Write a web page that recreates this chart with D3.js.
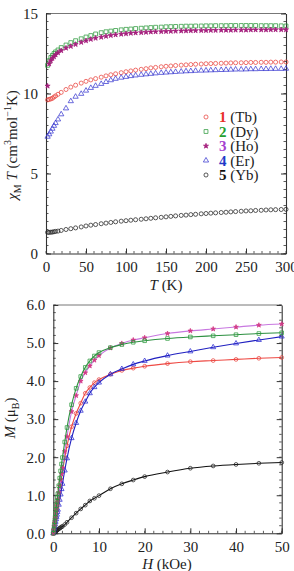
<!DOCTYPE html>
<html><head><meta charset="utf-8">
<script src="https://cdn.jsdelivr.net/npm/d3@7"></script>
<style>
html,body{margin:0;padding:0;background:#fff;overflow:hidden}
text{font-family:"Liberation Serif","Times New Roman",serif;fill:#222}
</style></head>
<body><svg id="c" width="294" height="571"></svg>
<script>
// ---------- Top chart data: chiM*T vs T ----------
const T = [2,4,6,8,10,12,15,19,25,31,37,44,50,56,62,69,75,81,87,94,100,106,112,119,125,131,137,144,150,156,162,169,175,181,187,194,200,206,212,219,225,231,237,244,250,256,262,269,275,281,287,294,300];
const chiTb = [9.60,9.63,9.66,9.70,9.78,9.85,9.95,10.07,10.25,10.40,10.52,10.65,10.76,10.85,10.93,11.02,11.10,11.17,11.23,11.30,11.36,11.41,11.46,11.51,11.55,11.60,11.63,11.67,11.70,11.72,11.75,11.77,11.79,11.81,11.83,11.84,11.86,11.87,11.88,11.89,11.90,11.91,11.92,11.92,11.93,11.94,11.94,11.95,11.95,11.96,11.96,11.97,11.97];
const chiDy = [11.76,12.05,12.25,12.38,12.50,12.60,12.72,12.87,13.03,13.18,13.30,13.42,13.53,13.62,13.72,13.80,13.86,13.90,13.94,13.98,14.01,14.03,14.06,14.08,14.10,14.12,14.14,14.15,14.17,14.18,14.19,14.20,14.21,14.21,14.22,14.22,14.23,14.23,14.24,14.24,14.24,14.25,14.25,14.25,14.25,14.25,14.25,14.24,14.24,14.24,14.24,14.23,14.22];
const chiHo = [10.47,11.85,12.05,12.20,12.30,12.42,12.55,12.68,12.84,12.95,13.07,13.20,13.30,13.39,13.46,13.52,13.58,13.63,13.67,13.71,13.74,13.77,13.79,13.81,13.83,13.85,13.86,13.87,13.88,13.89,13.90,13.91,13.92,13.93,13.93,13.94,13.94,13.95,13.95,13.96,13.96,13.96,13.97,13.97,13.97,13.98,13.98,13.98,13.98,13.99,13.99,13.99,13.99];
const chiEr = [7.30,7.45,7.62,7.80,7.98,8.15,8.38,8.70,9.07,9.52,9.80,9.98,10.18,10.35,10.48,10.60,10.72,10.83,10.92,10.99,11.04,11.09,11.13,11.17,11.20,11.23,11.26,11.29,11.31,11.33,11.35,11.37,11.39,11.40,11.42,11.43,11.44,11.45,11.46,11.47,11.48,11.49,11.50,11.50,11.51,11.52,11.52,11.53,11.53,11.54,11.54,11.54,11.55];
const chiYb = [1.32,1.32,1.33,1.34,1.36,1.38,1.40,1.44,1.50,1.55,1.60,1.66,1.72,1.77,1.81,1.86,1.90,1.94,1.98,2.02,2.05,2.08,2.11,2.14,2.17,2.20,2.23,2.26,2.29,2.32,2.35,2.38,2.40,2.43,2.45,2.48,2.50,2.52,2.54,2.56,2.58,2.60,2.62,2.64,2.66,2.67,2.69,2.70,2.72,2.73,2.74,2.75,2.76];
const topXTicks = [0,50,100,150,200,250,300];
const topYTicks = [0,5,10,15];

// ---------- Bottom chart data: M vs H ----------
const H = [0,0.1,0.2,0.3,0.4,0.5,0.6,0.7,0.8,0.9,1.0,1.2,1.4,1.6,1.8,2.0,2.5,3,4,5,6,7,8,9,10,12.5,15,17.5,20,25,30,35,40,45,50];
const mTb = [0,0.09,0.17,0.26,0.34,0.43,0.51,0.60,0.68,0.77,0.85,1.01,1.17,1.33,1.48,1.62,1.98,2.30,2.80,3.15,3.42,3.68,3.83,3.96,4.04,4.18,4.28,4.34,4.39,4.46,4.51,4.54,4.57,4.60,4.62];
const mDy = [0,0.10,0.21,0.31,0.42,0.52,0.63,0.73,0.84,0.94,1.04,1.25,1.45,1.64,1.82,1.99,2.40,2.78,3.38,3.81,4.12,4.36,4.53,4.66,4.75,4.88,4.96,5.02,5.06,5.12,5.16,5.19,5.22,5.25,5.27];
const mHo = [0,0.09,0.18,0.27,0.36,0.45,0.54,0.63,0.72,0.81,0.90,1.07,1.24,1.40,1.56,1.72,2.15,2.54,3.20,3.62,4.00,4.22,4.40,4.55,4.67,4.87,4.99,5.08,5.14,5.25,5.32,5.37,5.42,5.47,5.50];
const mEr = [0,0.06,0.12,0.18,0.24,0.30,0.37,0.43,0.49,0.56,0.62,0.75,0.88,1.02,1.16,1.30,1.65,1.97,2.50,2.90,3.22,3.46,3.68,3.84,3.96,4.18,4.32,4.44,4.53,4.67,4.78,4.89,4.99,5.08,5.17];
const mYb = [0,0.01,0.02,0.03,0.04,0.05,0.06,0.07,0.08,0.09,0.10,0.12,0.13,0.15,0.17,0.18,0.23,0.29,0.41,0.53,0.64,0.74,0.85,0.92,0.99,1.17,1.30,1.40,1.49,1.61,1.71,1.77,1.81,1.84,1.86];
const botXTicks = [0,10,20,30,40,50];
const botYTicks = [0,1,2,3,4,5,6];

const legendNums = ["1","2","3","4","5"];
const legendNames = ["(Tb)","(Dy)","(Ho)","(Er)","(Yb)"];

const svg = d3.select("#c");
const AX = "#333";

const series = [
  {key:"Tb", sym:d3.symbolCircle, fill:"none", stroke:"#e8423c", num:"#e8302a", line:"#ee4a44", mk:"#e8423c"},
  {key:"Dy", sym:d3.symbolSquare, fill:"none", stroke:"#2c9a3c", num:"#24a030", line:"#2c9040", mk:"#2c9a3c"},
  {key:"Ho", sym:d3.symbolStar,   fill:"#a41e7c", stroke:"#a41e7c", num:"#a340d0", line:"#c878e0", mk:"#d23a86"},
  {key:"Er", sym:d3.symbolTriangle, fill:"none", stroke:"#3a3ad0", num:"#2038c8", line:"#2020c0", mk:"#2a2ad0"},
  {key:"Yb", sym:d3.symbolCircle, fill:"none", stroke:"#222", num:"#111", line:"#111", mk:"#222"}
];
const symSize = {Tb:13, Dy:15, Ho:8, Er:12, Yb:13};
const symSizeB = {Tb:11, Dy:13, Ho:7, Er:11, Yb:11};

function frame(g, x, y, xTicks, yTicks, xMinorStep, yMinorStep, yFmt){
  const [x0,x1] = x.range(), [y0,y1] = y.range();
  g.append("line").attr("x1",x0).attr("x2",x1).attr("y1",y1).attr("y2",y1).attr("stroke","#777").attr("stroke-width",1);
  const xd = x.domain(), yd = y.domain();
  const xm = d3.range(xd[0], xd[1]+1e-9, xMinorStep);
  const ym = d3.range(yd[0], yd[1]+1e-9, yMinorStep);
  xm.forEach(v=>{
    g.append("line").attr("x1",x(v)).attr("x2",x(v)).attr("y1",y0).attr("y2",y0-2.5).attr("stroke",AX).attr("stroke-width",0.8);
  });
  ym.forEach(v=>{
    g.append("line").attr("x1",x0).attr("x2",x0+2.5).attr("y1",y(v)).attr("y2",y(v)).attr("stroke",AX).attr("stroke-width",0.8);
    g.append("line").attr("x1",x1).attr("x2",x1-2.5).attr("y1",y(v)).attr("y2",y(v)).attr("stroke",AX).attr("stroke-width",0.8);
  });
  const ax = g.append("g").attr("transform",`translate(0,${y0})`)
    .call(d3.axisBottom(x).tickValues(xTicks).tickSizeInner(-5).tickSizeOuter(0).tickPadding(8));
  const ay = g.append("g").attr("transform",`translate(${x0},0)`)
    .call(d3.axisLeft(y).tickValues(yTicks).tickSizeInner(-5).tickSizeOuter(0).tickPadding(8).tickFormat(yFmt));
  const ar = g.append("g").attr("transform",`translate(${x1},0)`)
    .call(d3.axisRight(y).tickValues(yTicks).tickSizeInner(-5).tickSizeOuter(0).tickFormat(""));
  [ax,ay,ar].forEach(a=>{
    a.select(".domain").attr("stroke",AX).attr("stroke-width",1.1);
    a.selectAll(".tick line").attr("stroke",AX).attr("stroke-width",1);
    a.selectAll("text").style("font-family",'"Liberation Serif",serif').style("font-size","15px").attr("fill","#222");
  });
}

// ---------- TOP ----------
const xT = d3.scaleLinear().domain([0,300]).range([46,286]);
const yT = d3.scaleLinear().domain([0,15]).range([253.5,13.5]);
const gT = svg.append("g");
frame(gT, xT, yT, topXTicks, topYTicks, 10, 0.5, d3.format("d"));

const topData = [chiTb, chiDy, chiHo, chiEr, chiYb];
series.forEach((s,i)=>{
  const sym = d3.symbol().type(s.sym).size(symSize[s.key]);
  gT.append("g").selectAll("path").data(T.map((t,j)=>[t,topData[i][j]])).join("path")
    .attr("transform",d=>`translate(${xT(d[0])},${yT(d[1])})`)
    .attr("d",sym).attr("fill",s.fill).attr("stroke",s.stroke).attr("stroke-width",0.75);
});

// legend
const lg = gT.append("g");
series.forEach((s,i)=>{
  const yy = 117 + i*14.5;
  lg.append("path").attr("transform",`translate(206,${yy})`)
    .attr("d", d3.symbol().type(s.sym).size(symSize[s.key])())
    .attr("fill",s.fill).attr("stroke",s.stroke).attr("stroke-width",0.75);
  const t = lg.append("text").attr("x",219).attr("y",yy+5).style("font-size","15px");
  t.append("tspan").text(legendNums[i]).attr("font-weight","bold").style("fill",s.num);
  t.append("tspan").text("\u00a0"+legendNames[i]).style("fill","#222");
});

// axis titles
gT.append("text").attr("x",166).attr("y",290).attr("text-anchor","middle").style("font-size","15px")
  .html('<tspan font-style="italic">T</tspan> (K)');
const yt = gT.append("text").attr("transform","translate(17,145) rotate(-90)").attr("text-anchor","middle").style("font-size","15px");
yt.append("tspan").text("\u03c7").attr("font-style","italic");
yt.append("tspan").text("M").attr("dy",4).style("font-size","10px");
yt.append("tspan").text(" ").attr("dy",-4);
yt.append("tspan").text("T").attr("font-style","italic");
yt.append("tspan").text(" (cm");
yt.append("tspan").text("3").attr("dy",-6).style("font-size","10px");
yt.append("tspan").text("mol").attr("dy",6);
yt.append("tspan").text("\u22121").attr("dy",-6).style("font-size","10px");
yt.append("tspan").text("K)").attr("dy",6);

// ---------- BOTTOM ----------
const xB = d3.scaleLinear().domain([0,50]).range([53.3,281.7]);
const yB = d3.scaleLinear().domain([0,6]).range([533.3,305]);
const gB = svg.append("g");
frame(gB, xB, yB, botXTicks, botYTicks, 2, 0.2, d3.format(".1f"));

const botData = [mTb, mDy, mHo, mEr, mYb];
const drawOrder = [4,0,3,2,1];
drawOrder.forEach(i=>{
  const s = series[i];
  const pts = H.map((h,j)=>[h,botData[i][j]]);
  gB.append("path").datum(pts)
    .attr("d", d3.line().x(d=>xB(d[0])).y(d=>yB(d[1])).curve(d3.curveMonotoneX))
    .attr("fill","none").attr("stroke",s.line).attr("stroke-width",1.1);
  const sym = d3.symbol().type(s.sym).size(symSizeB[s.key]);
  gB.append("g").selectAll("path").data(pts).join("path")
    .attr("transform",d=>`translate(${xB(d[0])},${yB(d[1])})`)
    .attr("d",sym).attr("fill", s.key==="Ho" ? s.mk : "none").attr("stroke",s.mk).attr("stroke-width",0.75);
});

gB.append("text").attr("x",167).attr("y",569).attr("text-anchor","middle").style("font-size","15px")
  .html('<tspan font-style="italic">H</tspan> (kOe)');
const yb = gB.append("text").attr("transform","translate(15,418) rotate(-90)").attr("text-anchor","middle").style("font-size","15px");
yb.append("tspan").text("M").attr("font-style","italic");
yb.append("tspan").text(" (\u03bc");
yb.append("tspan").text("B").attr("dy",4).style("font-size","10px");
yb.append("tspan").text(")").attr("dy",-4);
</script></body></html>
